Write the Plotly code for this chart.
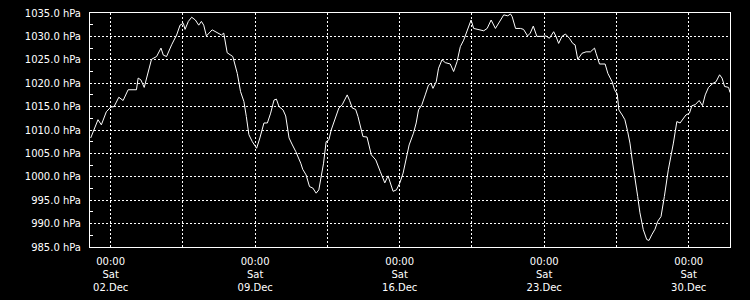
import pandas as pd
import plotly.graph_objects as go

# Hours since 2023-12-01 00:00
hours = [0.8, 5.5, 9.3, 13.2, 19.0, 24.2, 28.0, 33.5, 38.5, 44.3, 54.0, 56.0, 59.2, 63.0,
         67.7, 71.5, 77.4, 82.5, 85.2, 89.0, 94.9, 100.7, 104.7, 108.5, 110.5, 114.3, 118.2,
         122.5, 126.4, 129.5, 132.2, 135.3, 142.0, 147.8, 152.8, 155.5, 159.5, 166.0, 171.2,
         175.0, 178.9, 181.7, 184.7, 188.7, 193.7, 197.5, 202.2, 206.2, 210.0, 213.9, 216.7,
         219.7, 224.4, 227.5, 231.4, 235.3, 239.2, 245.0,
         247.3, 251.2, 255.2, 259.0, 262.9, 266.0, 268.7, 271.5, 274.5, 277.7, 280.4, 284.3,
         289.3, 293.2, 297.2, 299.0, 301.8, 304.9, 308.8, 311.5, 317.3, 322.0, 327.0, 332.2,
         337.5, 342.7, 346.5, 349.2, 352.3, 356.2, 360.2, 364.0, 367.9, 371.0,
         376.0, 379.2, 381.9, 385.8, 389.7, 393.5, 396.3, 398.7, 402.5, 405.2, 409.2, 413.0,
         418.8, 422.7, 426.7, 430.5, 434.4, 438.3, 443.0, 446.0, 451.9, 457.7, 461.7, 466.3,
         471.3, 477.2, 481.0, 485.7, 488.8, 490.8, 494.7, 500.5,
         504.0, 508.7, 511.8, 515.3, 519.5, 526.2, 530.0, 534.0, 539.0, 541.7, 544.8, 548.7,
         552.7, 557.3, 561.2, 563.9, 567.0, 572.0, 576.7, 581.8, 586.5, 588.3, 592.3, 598.8,
         602.0, 607.0, 609.8, 612.9, 614.8, 618.7, 621.8,
         625.0, 627.7, 630.3, 633.5, 636.7, 639.3, 643.2, 647.2, 649.8, 653.0, 656.8, 660.0,
         663.8, 667.7, 672.3, 678.2, 682.2, 686.0, 689.9, 692.7, 696.9, 699.7, 703.5, 708.2,
         712.0, 715.2, 719.0, 723.7, 727.7, 731.9, 734.7, 737.7, 742.4, 744.0]

pressure_hpa = [1008.3, 1010.4, 1012.2, 1011.1, 1013.9, 1014.9, 1015.0, 1017.0, 1016.3, 1018.6,
                1018.6, 1021.1, 1020.7, 1019.1, 1022.1, 1025.1, 1025.7, 1027.5, 1026.0, 1025.7,
                1028.2, 1030.3, 1032.4, 1032.8, 1031.5, 1033.2, 1034.1,
                1033.5, 1032.4, 1033.2, 1032.4, 1030.1, 1031.4, 1030.8, 1030.3, 1030.7, 1026.5,
                1025.7, 1022.1, 1018.2, 1016.1, 1012.9, 1009.0, 1007.5, 1006.1, 1008.3, 1011.5,
                1011.5, 1013.6, 1016.4, 1016.6, 1015.0, 1014.3, 1013.0, 1008.3, 1006.8, 1005.4,
                1002.9,
                1001.6, 1000.4, 997.9, 997.6, 996.5, 997.2, 1000.1, 1002.9, 1007.5, 1007.9,
                1010.0, 1012.2, 1014.7, 1015.4, 1017.1, 1017.5, 1016.3, 1014.7, 1014.4, 1012.9,
                1008.6, 1008.5, 1004.7, 1003.6, 1001.1, 998.7, 1000.2, 998.7, 996.9, 997.2,
                998.7, 1000.8, 1004.3, 1006.8,
                1009.3, 1011.5, 1014.3, 1015.4, 1017.5, 1019.6, 1020.0, 1018.9, 1020.3, 1023.2,
                1025.0, 1024.4, 1024.1, 1022.5, 1024.6, 1027.8, 1029.2, 1031.0, 1033.5, 1031.7,
                1031.4, 1031.2, 1031.7, 1033.5, 1031.7, 1033.5, 1034.6, 1034.4, 1034.8, 1034.2,
                1031.7, 1031.7,
                1031.5, 1030.1, 1030.7, 1032.2, 1030.0, 1030.0, 1030.1, 1029.6, 1031.0, 1030.0,
                1028.5, 1030.0, 1030.5, 1029.6, 1028.5, 1028.2, 1025.1, 1026.4, 1026.7, 1026.7,
                1027.5, 1026.4, 1024.1, 1024.1, 1022.1, 1020.3, 1018.6, 1017.7, 1014.3, 1013.2,
                1012.2,
                1009.7, 1007.2, 1003.6, 1000.1, 995.8, 992.3, 988.7, 986.6, 986.4, 987.6, 988.8,
                990.5, 991.5, 995.8, 1001.5, 1007.2, 1011.8, 1011.5, 1012.5, 1013.2, 1013.6,
                1015.2, 1015.4, 1016.3, 1015.2, 1017.5, 1019.1, 1019.9, 1020.3, 1021.8, 1021.1,
                1019.3, 1019.1, 1018.0]

start = pd.Timestamp("2023-12-01 00:00")
times = start + pd.to_timedelta(hours, unit="h")

x_range = ["2023-12-01 00:00", "2024-01-01 00:00"]
y_range = [985, 1035]

fig = go.Figure()
fig.add_trace(go.Scatter(x=times, y=pressure_hpa, mode="lines",
                         line=dict(color="white", width=1), hoverinfo="skip"))

grid = dict(gridcolor="#ffffff", gridwidth=1, griddash="2px,2px")
font = dict(family="DejaVu Sans", size=10, color="#ffffff")

fig.update_layout(
    width=750, height=300,
    paper_bgcolor="black", plot_bgcolor="black",
    margin=dict(l=90, r=20, t=13, b=53),
    showlegend=False,
    font=font,
)
fig.update_xaxes(
    type="date", range=x_range, automargin=False,
    tick0="2023-12-02", dtick=7 * 24 * 3600 * 1000,
    tickformat="%H:%M<br>%a<br>%d.%b",
    showgrid=True, **grid,
    minor=dict(tick0="2023-12-02", dtick=84 * 3600 * 1000, showgrid=True,
               gridcolor="#ffffff", gridwidth=1, griddash="2px,2px", ticks=""),
    showline=True, linecolor="white", linewidth=1, mirror=True,
    ticks="", tickfont=font, zeroline=False, ticklabelstandoff=5,
)
fig.update_yaxes(
    range=y_range, dtick=5, tick0=985, automargin=False,
    tickformat=".1f", ticksuffix=" hPa",
    showgrid=True, **grid,
    minor=dict(dtick=2.5, tick0=985, ticks="inside", ticklen=3, tickcolor="white",
               showgrid=False),
    showline=True, linecolor="white", linewidth=1, mirror=True,
    ticks="", tickfont=font, zeroline=False, ticklabelstandoff=6,
)

fig.write_html("out.html")
